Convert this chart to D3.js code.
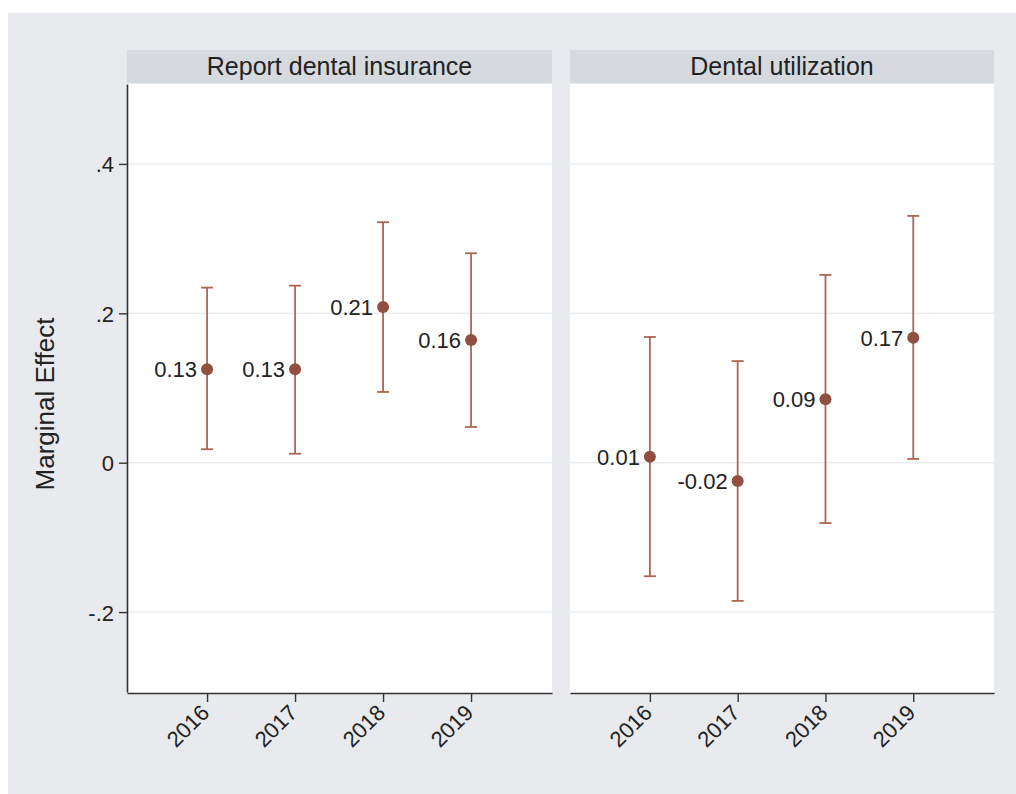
<!DOCTYPE html>
<html>
<head>
<meta charset="utf-8">
<script src="https://cdn.jsdelivr.net/npm/d3@7"></script>
<style>
  body { margin: 0; background: #fff; }
  text { font-family: "Liberation Sans", Arial, sans-serif; fill: #222; }
</style>
</head>
<body>
<div id="chart"></div>
<script>
// data
var years = [2016, 2017, 2018, 2019];
var panels = ["Report dental insurance", "Dental utilization"];

var insEst = [0.125, 0.125, 0.2085, 0.1643];
var insLow = [0.018, 0.012, 0.0947, 0.0478];
var insHigh = [0.2344, 0.237, 0.322, 0.2804];
var insLabels = ["0.13", "0.13", "0.21", "0.16"];

var utilEst = [0.008, -0.0245, 0.085, 0.1674];
var utilLow = [-0.152, -0.185, -0.0808, 0.005];
var utilHigh = [0.1683, 0.136, 0.2514, 0.3304];
var utilLabels = ["0.01", "-0.02", "0.09", "0.17"];

var yTicks = [-0.2, 0, 0.2, 0.4];
var yTickLabels = ["-.2", "0", ".2", ".4"];

var svgWidth = 1016;
var svgHeight = 794;

var svg = d3.select("#chart")
  .append("svg")
  .attr("width", svgWidth)
  .attr("height", svgHeight);

// outer gray graph region
svg.append("rect")
  .attr("x", 8).attr("y", 13)
  .attr("width", svgWidth - 8).attr("height", svgHeight - 13)
  .attr("fill", "#e8eaed");

var plotTop = 84, plotBottom = 693;
var panelX = [[127, 552], [570, 994]];

var y = d3.scaleLinear()
  .domain([-0.307, 0.507])
  .range([692, 84]);

var markColor = "#91503f";
var lineColor = "#ad6655";
var labelFont = "Liberation Sans, Arial, sans-serif";

var series = [
  { est: insEst, low: insLow, high: insHigh, labels: insLabels },
  { est: utilEst, low: utilLow, high: utilHigh, labels: utilLabels }
];

panels.forEach(function(title, p) {
  var x0 = panelX[p][0], x1 = panelX[p][1];
  var x = d3.scaleLinear()
    .domain([2015.09, 2019.92])
    .range([x0, x1]);

  var g = svg.append("g");

  // header strip
  g.append("rect")
    .attr("x", x0).attr("y", 50)
    .attr("width", x1 - x0).attr("height", 33)
    .attr("fill", "#d6dadf");
  g.append("text")
    .attr("x", (x0 + x1) / 2)
    .attr("y", 75)
    .attr("text-anchor", "middle")
    .style("font-size", "25px")
    .text(title);

  // plot region
  g.append("rect")
    .attr("x", x0).attr("y", plotTop)
    .attr("width", x1 - x0).attr("height", plotBottom - plotTop)
    .attr("fill", "#ffffff");

  // gridlines
  g.selectAll(".grid")
    .data(yTicks)
    .enter()
    .append("line")
    .attr("x1", x0).attr("x2", x1)
    .attr("y1", d => y(d)).attr("y2", d => y(d))
    .attr("stroke", "#e9eef1")
    .attr("stroke-width", 1.5);

  // x axis
  var xAxis = d3.axisBottom(x)
    .tickValues(years)
    .tickFormat(d3.format("d"))
    .tickSize(9)
    .tickSizeOuter(0);
  var xg = g.append("g")
    .attr("transform", `translate(0, ${plotBottom})`)
    .call(xAxis);
  xg.select(".domain").attr("stroke", "#333").attr("stroke-width", 1.6);
  xg.selectAll(".tick line").attr("stroke", "#333").attr("stroke-width", 1.4);
  xg.selectAll(".tick text")
    .attr("y", 0).attr("dy", 0)
    .attr("transform", "translate(3, 21) rotate(-45)")
    .attr("text-anchor", "end")
    .style("font-size", "22px")
    .style("font-family", labelFont)
    .attr("fill", "#222");

  // y axis only on first panel
  if (p === 0) {
    var yAxis = d3.axisLeft(y)
      .tickValues(yTicks)
      .tickFormat((d, i) => yTickLabels[i])
      .tickSize(8)
      .tickSizeOuter(0);
    var yg = g.append("g")
      .attr("transform", `translate(${x0}, 0)`)
      .call(yAxis);
    yg.select(".domain").attr("stroke", "#333").attr("stroke-width", 1.6);
    yg.selectAll(".tick line").attr("stroke", "#333").attr("stroke-width", 1.4);
    yg.selectAll(".tick text")
      .attr("x", -13)
      .attr("dy", "0.36em")
      .style("font-size", "22px")
      .style("font-family", labelFont)
      .attr("fill", "#222");
  }

  var s = series[p];
  var rows = years.map(function(yr, i) {
    return { year: yr, est: s.est[i], low: s.low[i], high: s.high[i], label: s.labels[i] };
  });

  // CI spikes
  g.selectAll(".ci")
    .data(rows)
    .enter()
    .append("line")
    .attr("x1", d => x(d.year)).attr("x2", d => x(d.year))
    .attr("y1", d => y(d.low)).attr("y2", d => y(d.high))
    .attr("stroke", lineColor)
    .attr("stroke-width", 1.8);

  // caps
  ["low", "high"].forEach(function(k) {
    g.selectAll(".cap-" + k)
      .data(rows)
      .enter()
      .append("line")
      .attr("x1", d => x(d.year) - 6).attr("x2", d => x(d.year) + 6)
      .attr("y1", d => y(d[k])).attr("y2", d => y(d[k]))
      .attr("stroke", lineColor)
      .attr("stroke-width", 1.8);
  });

  // markers
  g.selectAll(".pt")
    .data(rows)
    .enter()
    .append("circle")
    .attr("cx", d => x(d.year))
    .attr("cy", d => y(d.est))
    .attr("r", 6)
    .attr("fill", markColor);

  // value labels
  g.selectAll(".lbl")
    .data(rows)
    .enter()
    .append("text")
    .attr("x", d => x(d.year) - 10)
    .attr("y", d => y(d.est))
    .attr("dy", "0.36em")
    .attr("text-anchor", "end")
    .style("font-size", "22px")
    .text(d => d.label);
});

// y-axis title
svg.append("text")
  .attr("transform", "translate(54, 404) rotate(-90)")
  .attr("text-anchor", "middle")
  .style("font-size", "26px")
  .text("Marginal Effect");
</script>
</body>
</html>
